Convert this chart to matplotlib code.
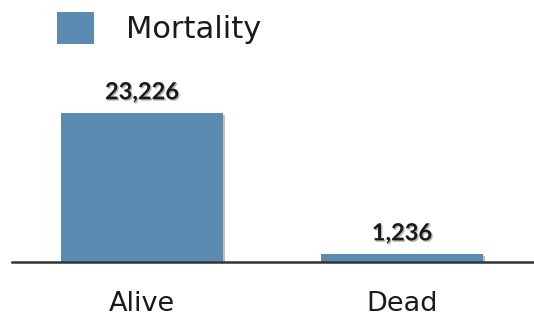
import matplotlib
matplotlib.use("Agg")
import matplotlib.pyplot as plt
import matplotlib.patheffects as pe

categories = ["Alive", "Dead"]
counts = [23226, 1236]
series_name = "Mortality"
value_labels = ["23,226", "1,236"]

W, H = 534, 321
fig = plt.figure(figsize=(W / 100, H / 100), dpi=100)

# axes: baseline at 262 px from top, spans x 12..534
ax_left, ax_right = 12, 534
ax_bottom, ax_top = 262, 80
ax = fig.add_axes([ax_left / W, (H - ax_bottom) / H,
                   (ax_right - ax_left) / W, (ax_bottom - ax_top) / H])

bar_color = "#5b8bb0"
top_px = 113
ymax = counts[0] * (ax_bottom - ax_top) / (ax_bottom - top_px)

bars = ax.bar(range(len(categories)), counts, width=0.625, color=bar_color,
              label=series_name, zorder=2)
for b in bars:
    b.set_path_effects([pe.SimplePatchShadow(offset=(1.5, -1.5), shadow_rgbFace="#000000", alpha=0.25),
                        pe.Normal()])

ax.set_xlim(-0.5, 1.508)
ax.set_ylim(0, ymax)

word_font = "DejaVu Sans"
num_font = "Lato"
for i, (v, lab) in enumerate(zip(counts, value_labels)):
    ax.annotate(lab, (i, v), xytext=(0, 7), textcoords="offset points",
                ha="center", va="bottom", fontsize=17, fontweight="bold",
                family=num_font, color="#1a1a1a",
                path_effects=[pe.withSimplePatchShadow(offset=(1, -1), alpha=0.3)])

for s in ["top", "right", "left"]:
    ax.spines[s].set_visible(False)
ax.spines["bottom"].set_color("#333333")
ax.spines["bottom"].set_linewidth(1.8)
ax.spines["bottom"].set_zorder(3)
ax.set_yticks([])
ax.set_xticks(range(len(categories)))
ax.set_xticklabels(categories, family=word_font, fontsize=19.5, color="#1a1a1a")
ax.tick_params(axis="x", length=0, pad=21)

leg = ax.legend(loc="upper left", bbox_to_anchor=(57 / W, 1 - 12 / H),
                bbox_transform=fig.transFigure, frameon=False,
                prop={"family": word_font, "size": 22},
                handlelength=1.2, handleheight=1.25, handletextpad=1.05,
                borderpad=0, borderaxespad=0)
for h in leg.legend_handles:
    h.set_path_effects([])
for t in leg.get_texts():
    t.set_color("#1a1a1a")

fig.savefig("out.png", dpi=100)
